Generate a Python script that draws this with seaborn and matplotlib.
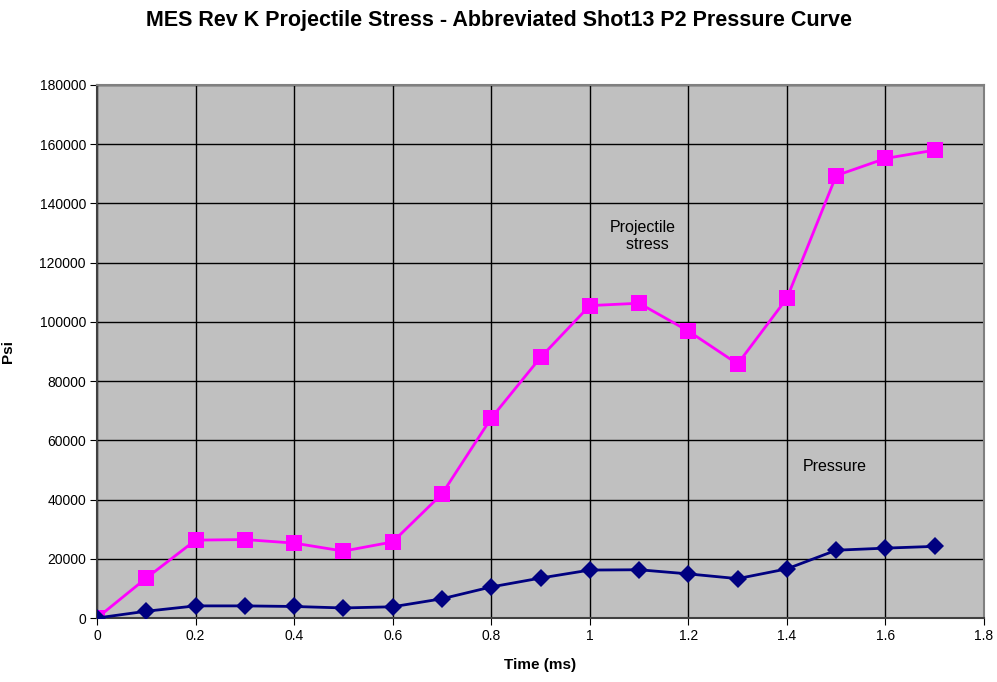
# Projectile stress vs pressure
import numpy as np
import pandas as pd
import seaborn as sns
import matplotlib
matplotlib.use("Agg")
import matplotlib.pyplot as plt

time_ms = [0, 0.1, 0.2, 0.3, 0.4, 0.5, 0.6, 0.7, 0.8, 0.9,
           1.0, 1.1, 1.2, 1.3, 1.4, 1.5, 1.6, 1.7]
stress = [0, 13500, 26300, 26500, 25300, 22600, 25700, 41900, 67500, 88000,
          105500, 106300, 96900, 85800, 108000, 149400, 155200, 158000]
pressure = [0, 2300, 4100, 4100, 3900, 3400, 3800, 6500, 10500, 13500,
            16200, 16300, 14900, 13300, 16600, 22900, 23600, 24200]
y_ticks = np.arange(0, 180001, 20000)
x_ticks = np.arange(0, 1.81, 0.2)

df = pd.DataFrame({"Time": time_ms * 2,
                   "Psi": stress + pressure,
                   "Series": ["Projectile stress"] * len(stress) + ["Pressure"] * len(pressure)})

plt.rcParams["font.family"] = ["Liberation Sans", "DejaVu Sans"]

fig = plt.figure(figsize=(9.97, 6.82), dpi=100)
ax = fig.add_axes([0.0973, 0.0938, 0.8897, 0.7816])
ax.set_facecolor("#c0c0c0")

sns.lineplot(data=df, x="Time", y="Psi", hue="Series", style="Series",
             palette={"Projectile stress": "#ff00ff", "Pressure": "#000080"},
             markers={"Projectile stress": "s", "Pressure": "D"},
             dashes=False, markersize=11, markeredgewidth=0,
             linewidth=2, legend=False, ax=ax, zorder=3)
for line in ax.lines:
    if line.get_marker() == "D":
        line.set_markersize(9)

ax.set_xlim(0, 1.8)
ax.set_ylim(0, 180000)
ax.set_xticks(x_ticks)
ax.set_xticklabels([f"{v:g}" for v in np.round(x_ticks, 1)])
ax.set_yticks(y_ticks)
ax.set_yticklabels([str(v) for v in y_ticks])
ax.grid(True, color="black", linewidth=1)
ax.set_axisbelow(True)
ax.tick_params(labelsize=10, length=5, direction="out", pad=3)
for s in ax.spines.values():
    s.set_color("#808080")
    s.set_linewidth(1.5)
ax.spines["left"].set_color("#404040")
ax.spines["bottom"].set_color("#404040")

ax.text(1.108, 129000, "Projectile\n  stress", fontsize=11.5, ha="center", va="center")
ax.text(1.498, 51300, "Pressure", fontsize=11.5, ha="center", va="center")

ax.set_xlabel("Time (ms)", fontsize=11, fontweight="bold", labelpad=11)
ax.set_ylabel("Psi", fontsize=11, fontweight="bold")
ax.yaxis.set_label_coords(-0.092, 0.5)
fig.suptitle("MES Rev K Projectile Stress - Abbreviated Shot13 P2 Pressure Curve",
             fontsize=15.5, fontweight="bold", y=0.985)

fig.savefig("out.png", dpi=100)
